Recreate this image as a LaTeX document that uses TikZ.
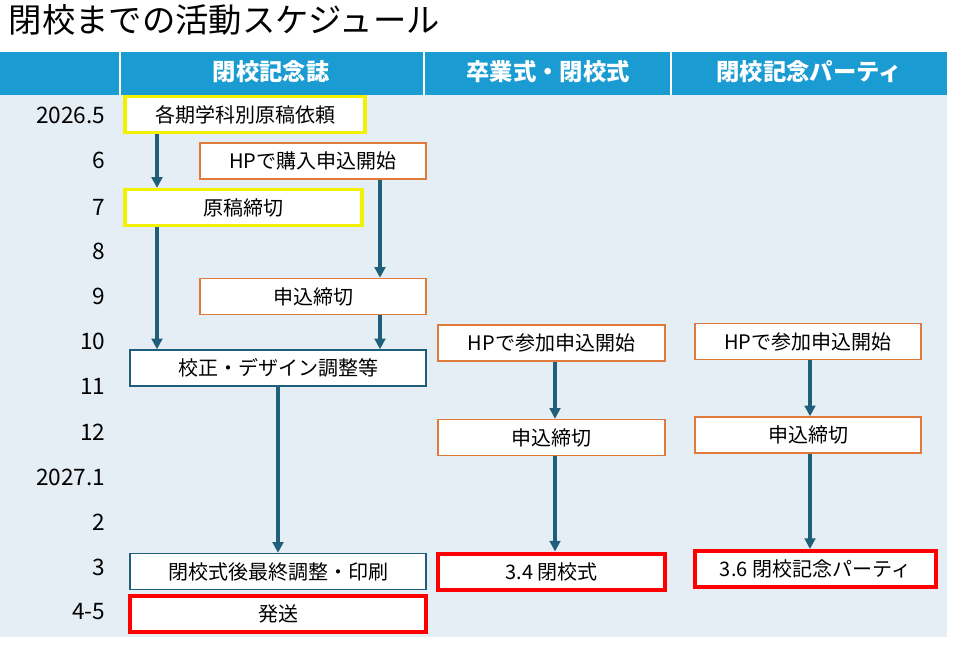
\documentclass[tikz,border=0pt]{standalone}
\usepackage{fontspec}
\setmainfont{Noto Sans CJK JP}
\usetikzlibrary{arrows.meta, positioning, calc}
\definecolor{hdrblue}{HTML}{1A9CD2}
\definecolor{bodybg}{HTML}{E6EEF5}
\definecolor{flow}{HTML}{1F5F7A}
\definecolor{ordorange}{HTML}{E0793A}
\definecolor{markyellow}{HTML}{F2F200}

\begin{document}
\begin{tikzpicture}[
  x=0.75pt, y=-0.75pt,
  box/.style={rectangle, fill=white, minimum height=27pt, inner sep=0pt, font=\fontsize{15}{17}\selectfont},
  ybox/.style={box, draw=markyellow, line width=2.4pt},
  obox/.style={box, draw=ordorange, line width=1.1pt},
  tbox/.style={box, draw=flow, line width=1.1pt},
  rbox/.style={box, draw=red, line width=3pt},
  arrow/.style={-{Triangle[length=8pt,width=8pt]}, flow, line width=2.6pt},
  hdr/.style={text=white, font=\fontsize{17.5}{19}\selectfont\bfseries},
  month/.style={anchor=east, font=\fontsize{17}{19}\selectfont}
]
\useasboundingbox (0,0) rectangle (953,646);

% title and table
\node[anchor=west, font=\fontsize{25}{28}\selectfont] (title) at (4,20) {閉校までの活動スケジュール};
\fill[bodybg] (0,95) rectangle (947,637);
\fill[hdrblue] (0,52) rectangle (947,95);
\foreach \x in {120,424,671}
  \draw[white, line width=1.2pt] (\x,52) -- (\x,95);
\node[hdr] (h1) at (271,72) {閉校記念誌};
\node[hdr] (h2) at (548,72) {卒業式・閉校式};
\node[hdr] (h3) at (809,72) {閉校記念パーティ};

% months
\foreach \m/\y in {2026.5/115, 6/160, 7/207, 8/251, 9/296, 10/341, 11/386, 12/432, 2027.1/477, 2/522, 3/567, 4-5/612}
  \node[month] at (110,\y) {\m};

% memorial book
\node[ybox, minimum width=180pt] (req) at (245,114.5) {各期学科別原稿依頼};
\node[obox, minimum width=169.5pt] (buy) at (313,161) {HPで購入申込開始};
\node[ybox, minimum width=177.75pt] (dead) at (243.5,207.5) {原稿締切};
\node[obox, minimum width=169.5pt] (buyend) at (313,296.5) {申込締切};
\node[tbox, minimum width=222pt] (proof) at (278,368) {校正・デザイン調整等};
\node[tbox, minimum width=222pt] (final) at (278,571.5) {閉校式後最終調整・印刷};
\node[rbox, minimum width=222pt] (ship) at (278,614) {発送};

% ceremony
\node[obox, minimum width=170.25pt] (cerstart) at (551.5,343) {HPで参加申込開始};
\node[obox, minimum width=170.25pt] (cerend) at (551.5,437.5) {申込締切};
\node[rbox, minimum width=170.25pt] (cer) at (551.5,571.5) {3.4 閉校式};

% party
\node[obox, minimum width=169.5pt] (ptystart) at (808,341.5) {HPで参加申込開始};
\node[obox, minimum width=169.5pt] (ptyend) at (808,435) {申込締切};
\node[rbox, minimum width=180.75pt] (pty) at (815.5,569) {3.6 閉校記念パーティ};

% arrows
\coordinate (lx) at (157,0);
\coordinate (rx) at (380,0);
\coordinate (mx) at (278,0);
\coordinate (cx) at (555,0);
\coordinate (px) at (810,0);
\draw[arrow] (req.south -| lx) -- (dead.north -| lx);
\draw[arrow] (buy.south -| rx) -- (buyend.north -| rx);
\draw[arrow] (dead.south -| lx) -- (proof.north -| lx);
\draw[arrow] (buyend.south -| rx) -- (proof.north -| rx);
\draw[arrow] (proof.south -| mx) -- (final.north -| mx);
\draw[arrow] (cerstart.south -| cx) -- (cerend.north -| cx);
\draw[arrow] (cerend.south -| cx) -- (cer.north -| cx);
\draw[arrow] (ptystart.south -| px) -- (ptyend.north -| px);
\draw[arrow] (ptyend.south -| px) -- (pty.north -| px);

\end{tikzpicture}
\end{document}
